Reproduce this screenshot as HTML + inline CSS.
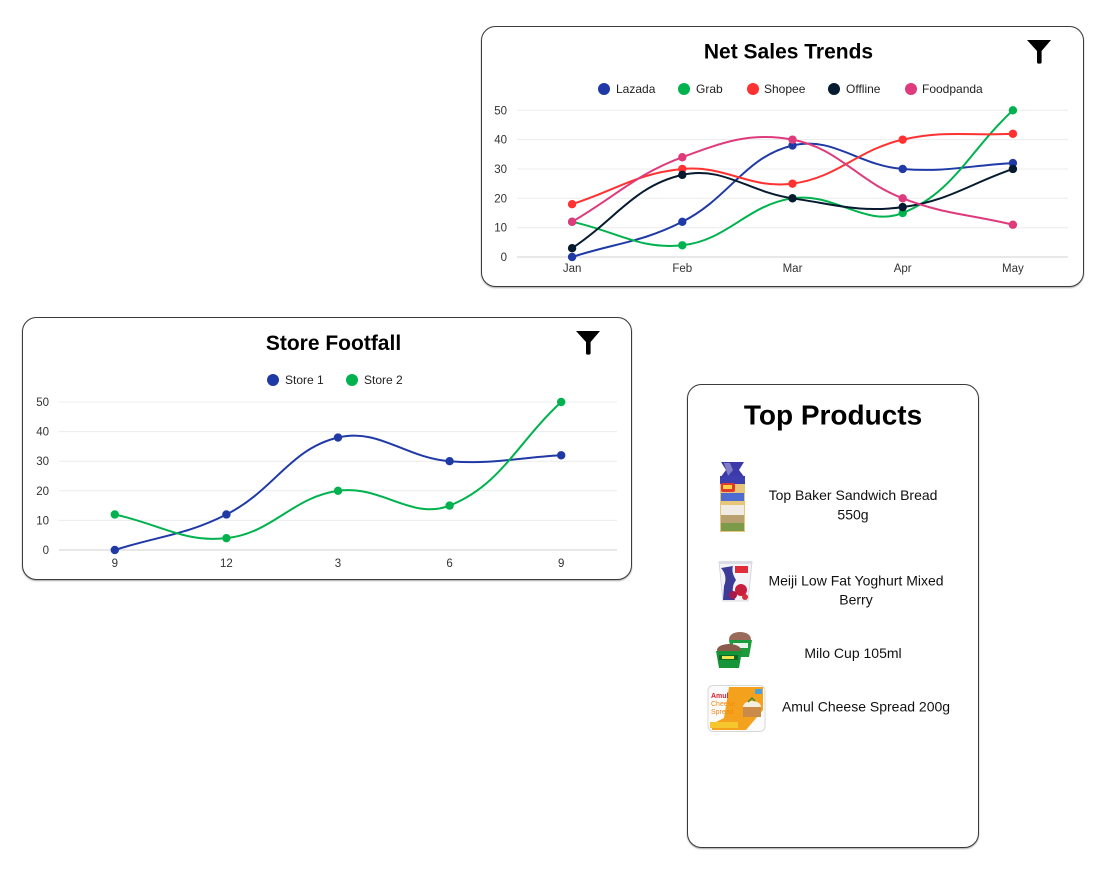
<!DOCTYPE html>
<html>
<head>
<meta charset="utf-8">
<style>
  html,body{margin:0;padding:0;background:#fff;}
  body{width:1109px;height:871px;overflow:hidden;font-family:"Liberation Sans",Arial,sans-serif;}
  svg{display:block;}
  .tick{font-size:11.5px;fill:#333;}
  .leg{font-size:12px;fill:#222;}
  .title{font-size:21px;font-weight:bold;fill:#000;}
  .prod{font-size:14px;fill:#111;}
</style>
</head>
<body>
<svg id="s" width="1109" height="871" viewBox="0 0 1109 871" xmlns="http://www.w3.org/2000/svg" font-family="Liberation Sans, Arial, sans-serif">
  <defs>
    <filter id="sh" x="-5%" y="-5%" width="110%" height="115%">
      <feDropShadow dx="0" dy="1" stdDeviation="0.8" flood-color="#000" flood-opacity="0.35"/>
    </filter>
  </defs>

  <!-- ===== Net Sales Trends card ===== -->
  <rect x="481.5" y="26.5" width="602" height="260" rx="14" ry="14" fill="#fff" stroke="#3a3a3a" stroke-width="1" filter="url(#sh)"/>
  <text class="title" x="788.5" y="58.5" text-anchor="middle">Net Sales Trends</text>
  <path d="M1027,40 L1051,40 L1041.6,51 L1041.6,62 Q1041.6,63.6 1040,63.6 L1038.6,63.6 Q1037,63.6 1037,62 L1037,51 Z" fill="#000"/>
  <!-- legend -->
  <circle cx="604" cy="89" r="6" fill="#1f3aa6"/><text class="leg" x="616" y="93.2">Lazada</text>
  <circle cx="684" cy="89" r="6" fill="#00b24e"/><text class="leg" x="696" y="93.2">Grab</text>
  <circle cx="753" cy="89" r="6" fill="#ff3131"/><text class="leg" x="764" y="93.2">Shopee</text>
  <circle cx="834" cy="89" r="6" fill="#061a30"/><text class="leg" x="846" y="93.2">Offline</text>
  <circle cx="911" cy="89" r="6" fill="#de3a7c"/><text class="leg" x="922" y="93.2">Foodpanda</text>
  <!-- grid -->
  <g stroke="#ececec" stroke-width="1">
    <line x1="517" x2="1068" y1="110.3" y2="110.3"/>
    <line x1="517" x2="1068" y1="139.6" y2="139.6"/>
    <line x1="517" x2="1068" y1="169" y2="169"/>
    <line x1="517" x2="1068" y1="198.3" y2="198.3"/>
    <line x1="517" x2="1068" y1="227.7" y2="227.7"/>
  </g>
  <line x1="517" x2="1068" y1="257" y2="257" stroke="#d0d0d0" stroke-width="1"/>
  <g class="tick" text-anchor="end">
    <text x="507" y="114.3">50</text>
    <text x="507" y="143.6">40</text>
    <text x="507" y="173">30</text>
    <text x="507" y="202.3">20</text>
    <text x="507" y="231.7">10</text>
    <text x="507" y="261">0</text>
  </g>
  <g class="tick" text-anchor="middle">
    <text x="572.1" y="272.2">Jan</text>
    <text x="682.3" y="272.2">Feb</text>
    <text x="792.5" y="272.2">Mar</text>
    <text x="902.7" y="272.2">Apr</text>
    <text x="1012.9" y="272.2">May</text>
  </g>
  <g id="net"></g>

  <!-- ===== Store Footfall card ===== -->
  <rect x="22.5" y="317.5" width="609" height="262" rx="14" ry="14" fill="#fff" stroke="#3a3a3a" stroke-width="1" filter="url(#sh)"/>
  <text class="title" x="333.5" y="350" text-anchor="middle">Store Footfall</text>
  <path d="M576,331 L600,331 L590.6,342 L590.6,353 Q590.6,354.6 589,354.6 L587.6,354.6 Q586,354.6 586,353 L586,342 Z" fill="#000"/>
  <circle cx="273" cy="380" r="6" fill="#1f3aa6"/><text class="leg" x="285" y="384.2">Store 1</text>
  <circle cx="352" cy="380" r="6" fill="#00b24e"/><text class="leg" x="364" y="384.2">Store 2</text>
  <g stroke="#ececec" stroke-width="1">
    <line x1="59" x2="617" y1="402" y2="402"/>
    <line x1="59" x2="617" y1="431.6" y2="431.6"/>
    <line x1="59" x2="617" y1="461.2" y2="461.2"/>
    <line x1="59" x2="617" y1="490.8" y2="490.8"/>
    <line x1="59" x2="617" y1="520.4" y2="520.4"/>
  </g>
  <line x1="59" x2="617" y1="550" y2="550" stroke="#d0d0d0" stroke-width="1"/>
  <g class="tick" text-anchor="end">
    <text x="49" y="406">50</text>
    <text x="49" y="435.6">40</text>
    <text x="49" y="465.2">30</text>
    <text x="49" y="494.8">20</text>
    <text x="49" y="524.4">10</text>
    <text x="49" y="554">0</text>
  </g>
  <g class="tick" text-anchor="middle">
    <text x="114.8" y="566.8">9</text>
    <text x="226.4" y="566.8">12</text>
    <text x="338" y="566.8">3</text>
    <text x="449.6" y="566.8">6</text>
    <text x="561.2" y="566.8">9</text>
  </g>
  <g id="foot"></g>

  <!-- ===== Top Products card ===== -->
  <rect x="687.5" y="384.5" width="291" height="463" rx="14" ry="14" fill="#fff" stroke="#3a3a3a" stroke-width="1" filter="url(#sh)"/>
  <text x="833" y="424.5" text-anchor="middle" font-size="28" font-weight="bold" fill="#000">Top Products</text>

  <!-- bread -->
  <g>
    <polygon points="721,462 744,462 739,470 745,478 720,478 726,470" fill="#3b3aa8"/>
    <polygon points="724,463 730,463 733,470 728,476" fill="#ffffff" opacity="0.35"/>
    <rect x="720" y="476" width="25" height="56" fill="#e7c67a"/>
    <rect x="720" y="476" width="25" height="8" fill="#3e3fae"/>
    <rect x="721" y="483" width="14" height="9" rx="2" fill="#e23a2a"/>
    <rect x="723" y="485" width="9" height="4" fill="#f7d34a"/>
    <rect x="721" y="493" width="23" height="8" fill="#4f6bd0"/>
    <rect x="721" y="505" width="23" height="10" fill="#f0ece4"/>
    <rect x="721" y="515" width="23" height="8" fill="#b8a070"/>
    <rect x="721" y="523" width="23" height="8" fill="#7b9a4a"/>
  </g>
  <!-- yoghurt -->
  <g>
    <polygon points="719,562 752,562 748,601 723,601" fill="#f4f4f8" stroke="#cfcfd8" stroke-width="0.8"/>
    <rect x="719" y="561" width="33" height="3" fill="#dcdce4"/>
    <path d="M721,568 Q728,576 724,586 L723,600 L735,600 Q730,588 736,580 Q731,572 733,566 Z" fill="#3c3c98"/>
    <rect x="735" y="566" width="13" height="7" fill="#e02c36"/>
    <circle cx="741" cy="590" r="6" fill="#c81e3c"/>
    <circle cx="733" cy="595" r="4" fill="#a8184a"/>
    <circle cx="745" cy="597" r="3" fill="#d23040"/>
  </g>
  <!-- milo -->
  <g>
    <ellipse cx="740" cy="639" rx="11" ry="7" fill="#9a6a5a"/>
    <polygon points="729,640 752,640 749,657 732,657" fill="#1c9a3c"/>
    <rect x="733" y="643" width="15" height="5" fill="#e8f4ea"/>
    <ellipse cx="729" cy="650" rx="12" ry="6" fill="#8a5a4a"/>
    <polygon points="716,651 742,651 739,668 719,668" fill="#159438"/>
    <rect x="719" y="655" width="19" height="5" fill="#0c6a26"/>
    <rect x="722" y="656" width="12" height="3" fill="#f2e24a"/>
  </g>
  <!-- amul -->
  <g>
    <rect x="708" y="685.5" width="57" height="46" rx="5" fill="#fbfbfb" stroke="#d8d8d8" stroke-width="1"/>
    <polygon points="729,687 763,687 763,710 746,730 712,730 712,724 724,718" fill="#f4a21e"/>
    <rect x="710" y="722" width="28" height="6" fill="#f6c62e"/>
    <text x="711" y="698" font-size="7" font-weight="bold" fill="#d8262c">Amul</text>
    <text x="711" y="706" font-size="7" fill="#f08a10">Cheese</text>
    <text x="711" y="714" font-size="7" fill="#f08a10">Spread</text>
    <ellipse cx="752" cy="707" rx="9" ry="6" fill="#f6efe0"/>
    <rect x="743" y="707" width="18" height="10" fill="#c98a4a"/>
    <rect x="755" y="689" width="7" height="5" rx="1" fill="#4aa0d8"/>
    <path d="M748,702 l4,-4 l3,3" stroke="#3a8a2a" stroke-width="1.5" fill="none"/>
  </g>

  <g class="prod" text-anchor="middle">
    <text x="853" y="500">Top Baker Sandwich Bread</text>
    <text x="853" y="519.5">550g</text>
    <text x="856" y="585.3">Meiji Low Fat Yoghurt Mixed</text>
    <text x="856" y="604.7">Berry</text>
    <text x="853" y="658">Milo Cup 105ml</text>
    <text x="866" y="711.3">Amul Cheese Spread 200g</text>
  </g>
</svg>

<script>
(function(){
  var NS="http://www.w3.org/2000/svg";
  function spline(pts,t){
    var n=pts.length, cps=[];
    for(var i=0;i<n;i++){
      var p=pts[i-1]||pts[i], c=pts[i], nx=pts[i+1]||pts[i];
      var d01=Math.hypot(c[0]-p[0],c[1]-p[1]);
      var d12=Math.hypot(nx[0]-c[0],nx[1]-c[1]);
      var s01=d01/(d01+d12), s12=d12/(d01+d12);
      if(isNaN(s01))s01=0; if(isNaN(s12))s12=0;
      var fa=t*s01, fb=t*s12;
      cps.push({
        px:c[0]-fa*(nx[0]-p[0]), py:c[1]-fa*(nx[1]-p[1]),
        nx:c[0]+fb*(nx[0]-p[0]), ny:c[1]+fb*(nx[1]-p[1])
      });
    }
    var d="M"+pts[0][0]+","+pts[0][1];
    for(var j=1;j<n;j++){
      d+=" C"+cps[j-1].nx+","+cps[j-1].ny+" "+cps[j].px+","+cps[j].py+" "+pts[j][0]+","+pts[j][1];
    }
    return d;
  }
  function draw(gid,series,x0,dx,y0,dy){
    var g=document.getElementById(gid);
    series.forEach(function(s){
      var pts=s.v.map(function(v,i){return [x0+i*dx, y0-v*dy];});
      var path=document.createElementNS(NS,"path");
      path.setAttribute("d",spline(pts,0.4));
      path.setAttribute("fill","none");
      path.setAttribute("stroke",s.c);
      path.setAttribute("stroke-width","2");
      g.appendChild(path);
      pts.forEach(function(p){
        var c=document.createElementNS(NS,"circle");
        c.setAttribute("cx",p[0]);c.setAttribute("cy",p[1]);
        c.setAttribute("r","4.2");c.setAttribute("fill",s.c);
        g.appendChild(c);
      });
    });
  }
  draw("net",[
    {c:"#1f3aa6",v:[0,12,38,30,32]},
    {c:"#00b24e",v:[12,4,20,15,50]},
    {c:"#ff3131",v:[18,30,25,40,42]},
    {c:"#061a30",v:[3,28,20,17,30]},
    {c:"#de3a7c",v:[12,34,40,20,11]}
  ],572.1,110.2,257,2.934);
  draw("foot",[
    {c:"#1f3aa6",v:[0,12,38,30,32]},
    {c:"#00b24e",v:[12,4,20,15,50]}
  ],114.8,111.6,550,2.96);
})();
</script>
</body>
</html>
